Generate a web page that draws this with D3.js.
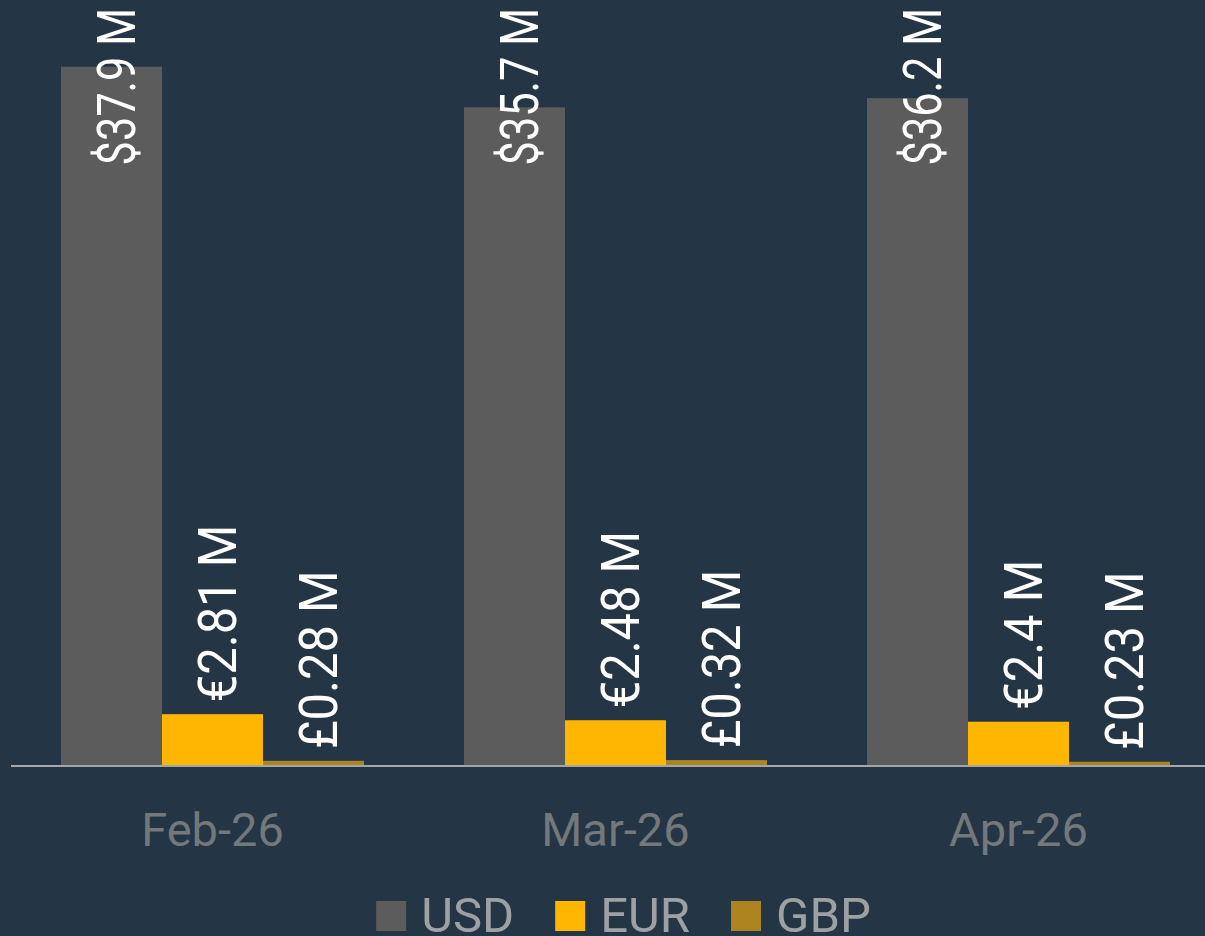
<!DOCTYPE html>
<html>
<head>
<meta charset="utf-8">
<script src="https://cdn.jsdelivr.net/npm/d3@7"></script>
<style>
  html, body { margin: 0; padding: 0; background: #243646; overflow: hidden; }
  svg { display: block; }
  text { font-family: Roboto, "Open Sans", sans-serif; }
</style>
</head>
<body>
<svg id="chart" width="1205" height="936"></svg>
<script>
// Monthly volume by currency, in millions
const months = ["Feb-26", "Mar-26", "Apr-26"];
const currencies = ["USD", "EUR", "GBP"];
const usdValues = [37.9, 35.7, 36.2];
const eurValues = [2.81, 2.48, 2.4];
const gbpValues = [0.28, 0.32, 0.23];
const valueLabels = [
  ["$37.9 M", "€2.81 M", "£0.28 M"],
  ["$35.7 M", "€2.48 M", "£0.32 M"],
  ["$36.2 M", "€2.4 M", "£0.23 M"]
];
const yMax = 40;

const colors = { USD: "#5b5c5b", EUR: "#ffb600", GBP: "#ad841f" };
const seriesValues = { USD: usdValues, EUR: eurValues, GBP: gbpValues };

const svg = d3.select("#chart");
const W = 1205, H = 936;

svg.append("rect").attr("width", W).attr("height", H).attr("fill", "#243646");

const baseY = 766;
const plotLeft = 11, plotRight = 1220;

const x0 = d3.scaleBand().domain(months).range([plotLeft, plotRight]).padding(0);
const x1 = d3.scaleBand().domain(currencies).range([0, x0.bandwidth()])
  .paddingInner(0).paddingOuter(0.495);
const y = d3.scaleLinear().domain([0, yMax]).range([baseY, 28]);

const rows = months.map((m, i) => ({
  month: m,
  bars: currencies.map((c, j) => ({ month: m, cur: c, value: seriesValues[c][i], label: valueLabels[i][j] }))
}));

const groups = svg.append("g").selectAll("g").data(rows).join("g")
  .attr("transform", d => `translate(${x0(d.month)},0)`);

groups.selectAll("rect").data(d => d.bars).join("rect")
  .attr("x", d => x1(d.cur))
  .attr("width", x1.bandwidth())
  .attr("y", d => y(d.value))
  .attr("height", d => baseY - y(d.value))
  .attr("fill", d => colors[d.cur]);

// Baseline axis
const xAxis = d3.axisBottom(x0).tickSize(0).tickPadding(0);
const axisG = svg.append("g").attr("transform", `translate(0,${baseY})`).call(xAxis);
axisG.select(".domain").attr("stroke", "#a3a5a7").attr("stroke-width", 2)
  .attr("d", `M${plotLeft},0H${plotRight}`);
axisG.selectAll(".tick text")
  .attr("y", 0).attr("dy", 0)
  .attr("transform", "translate(0,80)")
  .attr("fill", "#73787b")
  .style("font-size", "47px")
  .style("font-family", "Roboto, sans-serif");

// Value labels: rotated, just above each bar; labels that would run past
// the top of the chart are pinned to the top edge and tightened.
const labelFont = 54;
const squeeze = 0.905;
const topLimit = 8;
const gap = 12;

groups.each(function(row) {
  const g = d3.select(this);
  row.bars.forEach(b => {
    const cx = x1(b.cur) + x1.bandwidth() / 2;
    const t = g.append("text")
      .text(b.label)
      .attr("fill", "#ffffff")
      .style("font-size", labelFont + "px")
      .attr("text-anchor", "start");
    const len = t.node().getComputedTextLength();
    let sx = squeeze;
    let start = y(b.value) - gap;
    if (start - len * sx < topLimit) {
      sx = squeeze * 0.887;
      start = topLimit + len * sx;
    }
    const bx = cx + 0.355 * labelFont + 4;
    t.attr("transform", `translate(${bx},${start}) rotate(-90) scale(${sx},1)`);
  });
});

// Legend
const legendFont = 49;
const legend = svg.append("g");
let lx = 0;
currencies.forEach((c) => {
  const item = legend.append("g").attr("transform", `translate(${lx},0)`);
  item.append("rect").attr("x", 0).attr("y", -31).attr("width", 30).attr("height", 30)
    .attr("fill", colors[c]);
  const t = item.append("text").attr("x", 45).attr("y", 0).text(c)
    .attr("fill", "#9ea1a3").style("font-size", legendFont + "px");
  const w = t.node().getComputedTextLength();
  lx += 45 + w + 41;
});
const legendW = lx - 41;
legend.attr("transform", `translate(${623.5 - legendW / 2},932)`);
</script>
</body>
</html>
